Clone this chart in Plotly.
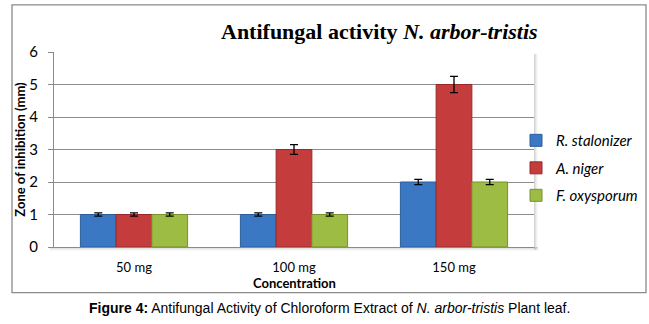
import plotly.graph_objects as go

categories = ["50 mg", "100 mg", "150 mg"]
series_names = ["<i>R. stalonizer</i>", "<i>A. niger</i>", "<i>F. oxysporum</i>"]
r_stalonizer = [1, 1, 2]
a_niger = [1, 3, 5]
f_oxysporum = [1, 1, 2]
r_err = [0.05, 0.05, 0.08]
a_err = [0.05, 0.15, 0.25]
f_err = [0.05, 0.05, 0.08]
y_ticks = [0, 1, 2, 3, 4, 5, 6]

colors = ["#3b78c4", "#c53c3c", "#9cbc44"]
edges = ["#2c5d9c", "#962a2a", "#77922f"]

W, H = 649, 324
L, R, T, B = 54, 534, 51.7, 247.3
pw, ph = R - L, B - T

def px(x):
    return (x - L) / pw

def py(y):
    return (B - y) / ph

fig = go.Figure()
for i, (name, vals, err) in enumerate(zip(series_names, [r_stalonizer, a_niger, f_oxysporum], [r_err, a_err, f_err])):
    fig.add_trace(go.Bar(
        x=categories, y=vals, name=name, legendgroup=str(i),
        marker=dict(color=colors[i], line=dict(color=edges[i], width=1)),
        error_y=dict(type="data", array=err, visible=True, color="black", thickness=1.3, width=4),
    ))

shapes = []
# plot area shadow (right and bottom)
for k, op in enumerate([0.35, 0.22, 0.12, 0.06]):
    shapes.append(dict(type="rect", xref="paper", yref="paper",
                       x0=px(R + k), x1=px(R + k + 1), y0=py(B + 3), y1=py(T + 2),
                       fillcolor="gray", opacity=op, line=dict(width=0), layer="below"))
    shapes.append(dict(type="rect", xref="paper", yref="paper",
                       x0=px(L - 4), x1=px(R + 4), y0=py(B + k + 1), y1=py(B + k),
                       fillcolor="gray", opacity=op, line=dict(width=0), layer="below"))
# outer chart border
shapes.append(dict(type="rect", xref="paper", yref="paper",
                   x0=px(12), x1=px(646), y0=py(293), y1=py(4.5),
                   line=dict(color="#8a8a8a", width=1.3), fillcolor="rgba(0,0,0,0)", layer="below"))

annotations = [
    dict(text="<b>Antifungal activity <i>N. arbor-tristis</i></b>", xref="paper", yref="paper",
         x=px(379), y=py(31), xanchor="center", yanchor="middle", showarrow=False,
         font=dict(family="Liberation Serif", size=22, color="black")),
    dict(text="<b>Concentration</b>", xref="paper", yref="paper",
         x=px(294), y=py(283), xanchor="center", yanchor="middle", showarrow=False,
         font=dict(family="Lato", size=13, color="black")),
    dict(text="<b>Figure 4:</b> Antifungal Activity of Chloroform Extract of <i>N. arbor-tristis</i> Plant leaf.",
         xref="paper", yref="paper", x=px(329), y=py(308), xanchor="center", yanchor="middle",
         showarrow=False, font=dict(family="Liberation Sans Narrow, Liberation Sans", size=14, color="black")),
]

fig.update_layout(
    width=W, height=H,
    margin=dict(l=L, r=W - R, t=T, b=H - B, autoexpand=False),
    paper_bgcolor="white", plot_bgcolor="white",
    barmode="group", bargap=0.33, bargroupgap=0,
    font=dict(family="Lato", color="black"),
    showlegend=True,
    legend=dict(x=px(516), y=py(124), xanchor="left", yanchor="top",
                font=dict(family="Lato", size=15, color="black"),
                tracegroupgap=5, itemwidth=30, bgcolor="rgba(0,0,0,0)"),
    shapes=shapes, annotations=annotations,
)
fig.update_xaxes(
    showline=True, linecolor="#8a8a8a", linewidth=1, ticks="", showgrid=False,
    tickfont=dict(family="Lato", size=13), ticklabelstandoff=8,
)
fig.update_yaxes(
    range=[0, 6], tickvals=y_ticks, showline=True, linecolor="#8a8a8a", linewidth=1,
    ticks="outside", ticklen=5, tickcolor="#8a8a8a",
    showgrid=True, gridcolor="#8c8c8c", gridwidth=1, zeroline=False,
    tickfont=dict(family="Lato", size=15), ticklabelstandoff=7,
    title=dict(text="<b>Zone of inhibition (mm)</b>", font=dict(family="Lato", size=13), standoff=0),
)

fig.write_html("out.html")
